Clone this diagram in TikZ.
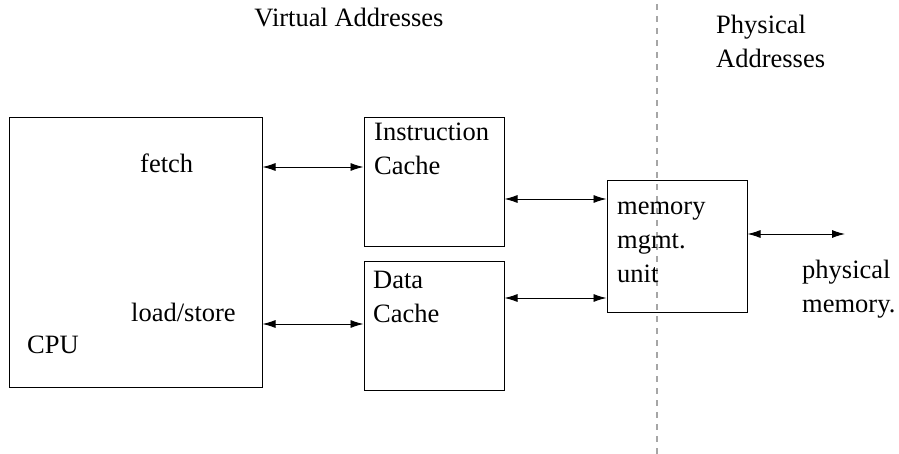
\documentclass[tikz,border=0pt]{standalone}
\usepackage{fontspec}
\setmainfont{Liberation Serif}
\usetikzlibrary{arrows.meta}

\begin{document}
\begin{tikzpicture}[x=1pt,y=-1pt,
  every node/.style={font=\fontsize{26.5}{34}\selectfont},
  box/.style={draw,line width=1pt,inner sep=0pt},
  txt/.style={inner sep=0pt,anchor=base west,align=left},
  link/.style={line width=0.9pt,{Latex[length=13pt,width=8pt]}-{Latex[length=13pt,width=8pt]}}]
  \useasboundingbox (0,0) rectangle (899,454);

  % boundary between virtual and physical side
  \draw[gray!70,line width=1.6pt,dash pattern=on 6pt off 6pt] (657,4) -- (657,454);

  % multi-line texts are placed by the baseline of their last line
  \node (virt) at (349,27) [txt,anchor=base] {Virtual Addresses};
  \node (phys) at (716,68) [txt] {Physical\\Addresses};

  \node (cpu) at (135.5,252.5) [box,minimum width=253pt,minimum height=269pt] {};
  \node (fetch) at (140,173) [txt] {fetch};
  \node (ldst) at (131,321) [txt] {load/store};
  \node (cpulbl) at (27,353) [txt] {CPU};

  \node (icache) at (434,182.5) [box,minimum width=140pt,minimum height=129pt] {};
  \node (iclbl) at (374,175) [txt] {Instruction\\Cache};

  \node (dcache) at (434,326) [box,minimum width=140pt,minimum height=128pt] {};
  \node (dclbl) at (373,322) [txt] {Data\\Cache};

  \node (mmu) at (677,246.5) [box,minimum width=140pt,minimum height=131pt] {};
  \node (mmulbl) at (617,283) [txt] {memory\\mgmt.\\unit};

  \coordinate (physmem) at (845,234);
  \node (pmem) at (802,312) [txt] {physical\\memory.};

  \draw[link] (cpu.east |- 0,167) -- (icache.west |- 0,167);
  \draw[link] (cpu.east |- 0,324) -- (dcache.west |- 0,324);
  \draw[link] (icache.east |- 0,199) -- (mmu.west |- 0,199);
  \draw[link] (dcache.east |- 0,298) -- (mmu.west |- 0,298);
  \draw[link] (mmu.east |- physmem) -- (physmem);

\end{tikzpicture}
\end{document}
